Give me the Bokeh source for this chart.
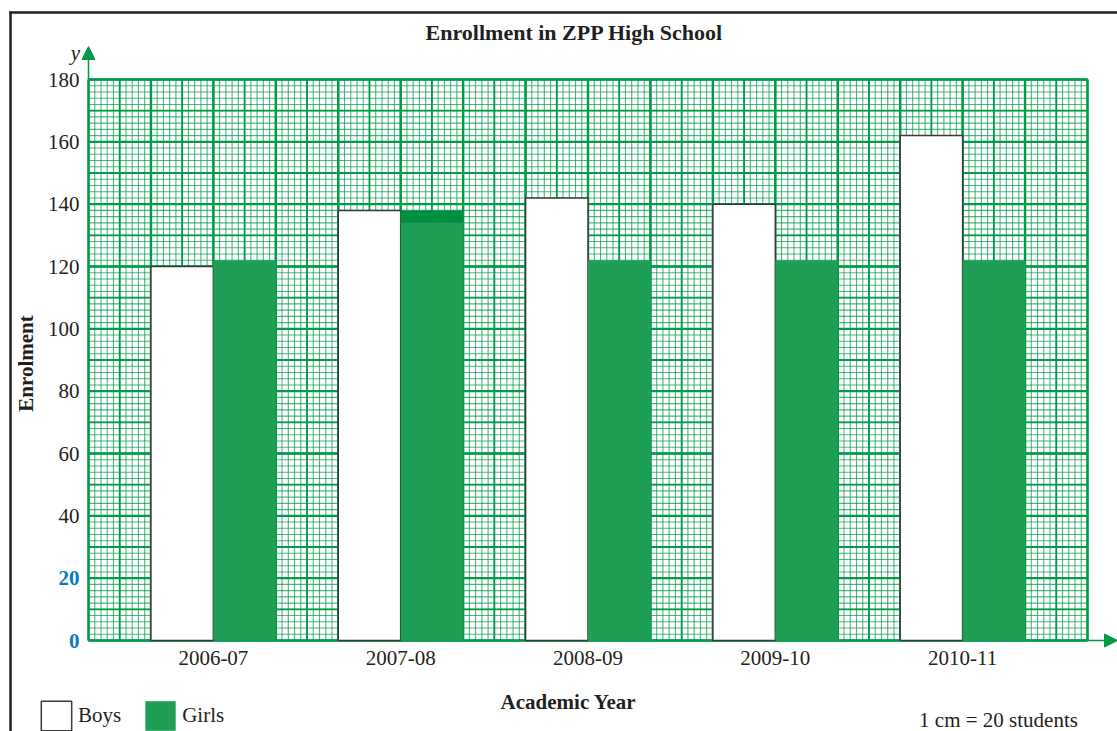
import numpy as np
from bokeh.plotting import figure
from bokeh.models import Label, Arrow, NormalHead, Legend, LegendItem, Range1d
from bokeh.core.properties import value
from bokeh.embed import file_html
from bokeh.resources import INLINE

# ---------------- data ----------------
years = ["2006-07", "2007-08", "2008-09", "2009-10", "2010-11"]
boys = [120, 138, 142, 140, 162]
girls = [122, 138, 122, 122, 122]
girls_dark_band = [None, 134, None, None, None]   # darker top band start (2007-08)
y_ticks = [0, 20, 40, 60, 80, 100, 120, 140, 160, 180]
y_ticks_blue = [0, 20]
title_text = "Enrollment in ZPP High School"
x_title = "Academic Year"
y_title = "Enrolment"
scale_note = "1 cm = 20 students"

# ---------------- style ----------------
FONT = "Liberation Serif"
INK = "#231f20"
GRID = "#009a48"
GIRL = "#1f9e55"
GIRL_DARK = "#008f3e"
BLUE = "#0a78c2"

W, H = 1117, 731
GX0, GX1, GY0, GY1 = 88, 1087, 640, 79     # graph-paper area in canvas px
XMAX, YMAX = 16, 180
PXX = (GX1 - GX0) / XMAX
PXY = (GY0 - GY1) / YMAX


def dx(sx):   # canvas px -> data x
    return (sx - GX0) / PXX


def dy(sy):   # canvas px -> data y
    return (GY0 - sy) / PXY


p = figure(width=W, height=H,
           x_range=Range1d(dx(0), dx(W)), y_range=Range1d(dy(H), dy(0)),
           output_backend="svg", toolbar_location=None, title=None,
           x_axis_location=None, y_axis_location=None,
           min_border_left=0, min_border_right=0, min_border_top=0,
           min_border_bottom=0)
p.background_fill_color = "white"
p.border_fill_color = "white"
p.outline_line_color = None
p.xgrid.visible = False
p.ygrid.visible = False

# graph-paper grid (1 mm, 5 mm, 1 cm lines)
for step_x, step_y, lw, alpha in [(0.1, 2, 1.1, 0.7), (0.5, 10, 1.8, 1.0), (1, 20, 2.4, 1.0)]:
    gx = np.round(np.arange(0, XMAX + 1e-6, step_x), 3)
    gy = np.round(np.arange(0, YMAX + 1e-6, step_y), 3)
    p.segment(x0=gx, y0=0, x1=gx, y1=YMAX, line_color=GRID, line_width=lw, line_alpha=alpha)
    p.segment(x0=0, y0=gy, x1=XMAX, y1=gy, line_color=GRID, line_width=lw, line_alpha=alpha)

# bars
centers = [2 + 3 * i for i in range(len(years))]
boys_x = [c - 0.5 for c in centers]
girls_x = [c + 0.5 for c in centers]
rb = p.vbar(x=boys_x, top=boys, bottom=0, width=1, fill_color="white",
            line_color="#3a3a3a", line_width=1.5)
rg = p.vbar(x=girls_x, top=girls, bottom=0, width=1, fill_color=GIRL, line_color=None)
band_x = [gx for gx, b in zip(girls_x, girls_dark_band) if b is not None]
band_b = [b for b in girls_dark_band if b is not None]
band_t = [g for g, b in zip(girls, girls_dark_band) if b is not None]
p.vbar(x=band_x, top=band_t, bottom=band_b, width=1, fill_color=GIRL_DARK, line_color=None)

# tick labels
black_ticks = [t for t in y_ticks if t not in y_ticks_blue]
p.text(x=[0] * len(black_ticks), y=black_ticks, text=[str(t) for t in black_ticks],
       x_offset=-9, text_align="right", text_baseline="middle",
       text_font=value(FONT), text_font_size="21px", text_color=INK)
p.text(x=[0] * len(y_ticks_blue), y=y_ticks_blue, text=[str(t) for t in y_ticks_blue],
       x_offset=-9, text_align="right", text_baseline="middle",
       text_font=value(FONT), text_font_size="21px", text_font_style="bold",
       text_color=BLUE)
p.text(x=centers, y=[0] * len(centers), text=years, y_offset=10,
       text_align="center", text_baseline="top",
       text_font=value(FONT), text_font_size="21px", text_color=INK)

# axis arrows
p.add_layout(Arrow(end=NormalHead(size=13, fill_color=GRID, line_color=GRID),
                   x_start=0, y_start=YMAX, x_end=0, y_end=dy(46),
                   line_color=GRID, line_width=1.5))
p.add_layout(Arrow(end=NormalHead(size=13, fill_color=GRID, line_color=GRID),
                   x_start=XMAX, y_start=0, x_end=dx(1117), y_end=0,
                   line_color=GRID, line_width=1.5))

# outer page frame lines
p.add_layout(Arrow(end=None, x_start=dx(10), y_start=dy(11), x_end=dx(10), y_end=dy(760),
                   line_color=INK, line_width=2.5))
p.add_layout(Arrow(end=None, x_start=dx(9), y_start=dy(12), x_end=dx(1130), y_end=dy(12),
                   line_color=INK, line_width=2.5))

# texts
p.add_layout(Label(x=dx(574), y=dy(32), text=title_text, text_align="center",
                   text_baseline="middle", text_font=FONT, text_font_size="22px",
                   text_font_style="bold", text_color=INK))
p.add_layout(Label(x=dx(568), y=dy(701), text=x_title, text_align="center",
                   text_baseline="middle", text_font=FONT, text_font_size="21px",
                   text_font_style="bold", text_color=INK))
p.add_layout(Label(x=dx(25), y=dy(363), text=y_title, text_align="center",
                   text_baseline="middle", angle=np.pi / 2, text_font=FONT,
                   text_font_size="21px", text_font_style="bold", text_color=INK))
p.add_layout(Label(x=dx(998), y=dy(719), text=scale_note, text_align="center",
                   text_baseline="middle", text_font=FONT, text_font_size="21px",
                   text_color=INK))
p.add_layout(Label(x=dx(75), y=dy(52), text="y", text_align="center",
                   text_baseline="middle", text_font=FONT, text_font_size="21px",
                   text_font_style="italic", text_color=INK))

# legend
legend = Legend(items=[LegendItem(label="Boys", renderers=[rb]),
                       LegendItem(label="Girls", renderers=[rg])],
                location=(37, -3), orientation="horizontal",
                glyph_width=38, glyph_height=37, label_standoff=3, spacing=20,
                padding=0, margin=0, border_line_color=None,
                background_fill_alpha=0, label_text_font=FONT,
                label_text_font_size="21px", label_text_color=INK,
                label_text_baseline="middle")
p.add_layout(legend)

open("out.html", "w").write(file_html(p, INLINE))
